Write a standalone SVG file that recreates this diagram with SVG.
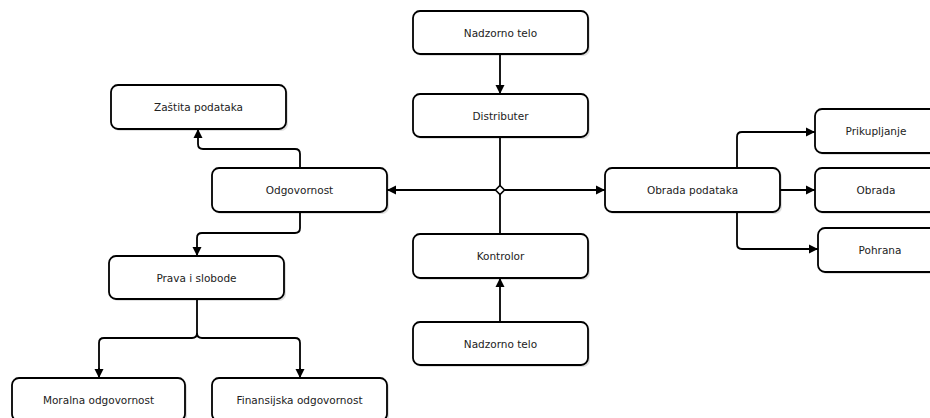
<svg xmlns="http://www.w3.org/2000/svg" width="930" height="418" viewBox="0 0 930 418">
<style>
.box{fill:#ffffff;stroke:#000;stroke-width:1.8}
.sh{fill:#000;opacity:0.12}
.t{font-family:"DejaVu Sans",Verdana,sans-serif;font-size:10.5px;fill:#222;text-anchor:middle;dominant-baseline:central}
.e{fill:none;stroke:#000;stroke-width:1.8}
.a{marker-end:url(#arr)}
</style>
<defs>
<marker id="arr" markerUnits="userSpaceOnUse" markerWidth="10" markerHeight="10" refX="9" refY="5" orient="auto">
<path d="M0,0.5 L9,5 L0,9.5 z" fill="#000"/>
</marker>
</defs>
<rect width="930" height="418" fill="#fff"/>
<g id="connectors">
<path class="e a" d="M500,54 V94"/>
<path class="e" d="M500,137 V234"/>
<path class="e a" d="M500,322 V278"/>
<path class="e a" d="M496,190 H387"/>
<path class="e a" d="M504,190 H605"/>
<path class="e a" d="M300,168 V154 Q300,149 295,149 H203 Q198,149 198,144 V129"/>
<path class="e a" d="M300,212 V228 Q300,233 295,233 H202 Q197,233 197,238 V256"/>
<path class="e" d="M197,299 V333 Q197,338 192,338 H104 Q99,338 99,343 V372"/>
<path class="e a" d="M99,368 V378"/>
<path class="e" d="M197,333 Q197,338 202,338 H295 Q300,338 300,343 V372"/>
<path class="e a" d="M300,368 V378"/>
<path class="e a" d="M737,168 V137 Q737,132 742,132 H815"/>
<path class="e a" d="M780,190 H815"/>
<path class="e a" d="M737,212 V244 Q737,249 742,249 H818"/>
<path d="M500,185.5 L504.5,190 L500,194.5 L495.5,190 z" fill="#fff" stroke="#000" stroke-width="1.6"/>
</g>
<g id="n1"><rect class="sh" x="415" y="13" width="175" height="43" rx="7"/><rect class="box" x="413" y="11" width="175" height="43" rx="7"/><text class="t" x="500.5" y="33">Nadzorno telo</text></g>
<g id="n2"><rect class="sh" x="415" y="96" width="175" height="43" rx="7"/><rect class="box" x="413" y="94" width="175" height="43" rx="7"/><text class="t" x="500.5" y="116">Distributer</text></g>
<g id="n3"><rect class="sh" x="415" y="236" width="175" height="44" rx="7"/><rect class="box" x="413" y="234" width="175" height="44" rx="7"/><text class="t" x="500.5" y="256">Kontrolor</text></g>
<g id="n4"><rect class="sh" x="415" y="324" width="175" height="43" rx="7"/><rect class="box" x="413" y="322" width="175" height="43" rx="7"/><text class="t" x="500.5" y="344">Nadzorno telo</text></g>
<g id="n5"><rect class="sh" x="113" y="87" width="175" height="44" rx="7"/><rect class="box" x="111" y="85" width="175" height="44" rx="7"/><text class="t" x="198.5" y="107">Zaštita podataka</text></g>
<g id="n6"><rect class="sh" x="214" y="170" width="175" height="44" rx="7"/><rect class="box" x="212" y="168" width="175" height="44" rx="7"/><text class="t" x="299.5" y="190">Odgovornost</text></g>
<g id="n7"><rect class="sh" x="111" y="258" width="175" height="43" rx="7"/><rect class="box" x="109" y="256" width="175" height="43" rx="7"/><text class="t" x="196.5" y="278">Prava i slobode</text></g>
<g id="n8"><rect class="sh" x="14" y="380" width="173" height="43" rx="7"/><rect class="box" x="12" y="378" width="173" height="43" rx="7"/><text class="t" x="98.5" y="400">Moralna odgovornost</text></g>
<g id="n9"><rect class="sh" x="214" y="380" width="175" height="43" rx="7"/><rect class="box" x="212" y="378" width="175" height="43" rx="7"/><text class="t" x="299.5" y="400">Finansijska odgovornost</text></g>
<g id="n10"><rect class="sh" x="607" y="170" width="175" height="44" rx="7"/><rect class="box" x="605" y="168" width="175" height="44" rx="7"/><text class="t" x="692.5" y="190">Obrada podataka</text></g>
<g id="n11"><rect class="sh" x="817" y="111" width="122" height="44" rx="7"/><rect class="box" x="815" y="109" width="122" height="44" rx="7"/><text class="t" x="876" y="131">Prikupljanje</text></g>
<g id="n12"><rect class="sh" x="817" y="170" width="122" height="44" rx="7"/><rect class="box" x="815" y="168" width="122" height="44" rx="7"/><text class="t" x="876" y="190">Obrada</text></g>
<g id="n13"><rect class="sh" x="820" y="230" width="124" height="44" rx="7"/><rect class="box" x="818" y="228" width="124" height="44" rx="7"/><text class="t" x="880" y="250">Pohrana</text></g>
</svg>
